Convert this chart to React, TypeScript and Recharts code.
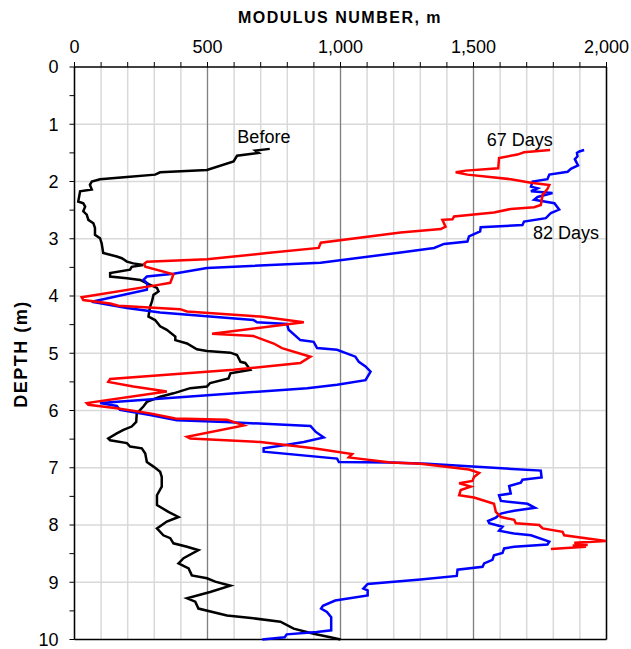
import {
  CartesianGrid,
  ReferenceDot,
  ReferenceLine,
  Scatter,
  ScatterChart,
  XAxis,
  YAxis,
} from "recharts";

// [modulus number m, depth (m)]
const beforeProfile: [number, number][] = [
  [734, 1.43], [680, 1.46], [692, 1.5], [611, 1.55], [598, 1.65], [498, 1.8],
  [322, 1.84], [303, 1.88], [197, 1.92], [96, 1.96], [65, 2.0], [58, 2.06],
  [65, 2.14], [21, 2.17], [14, 2.35], [33, 2.38], [40, 2.44], [33, 2.52],
  [46, 2.58], [52, 2.67], [71, 2.73], [77, 2.81], [77, 2.93], [96, 2.99],
  [102, 3.08], [108, 3.25], [159, 3.31], [178, 3.34], [197, 3.4], [221, 3.43],
  [259, 3.46], [215, 3.49], [209, 3.54], [134, 3.6], [134, 3.66], [197, 3.69],
  [247, 3.72], [272, 3.78], [310, 3.86], [316, 3.92], [297, 3.98], [291, 4.1],
  [284, 4.19], [278, 4.36], [303, 4.42], [322, 4.53], [347, 4.59], [379, 4.71],
  [379, 4.77], [423, 4.83], [460, 4.93], [498, 4.96], [586, 4.99], [611, 5.03],
  [624, 5.15], [642, 5.17], [661, 5.29], [586, 5.35], [579, 5.44], [510, 5.52],
  [498, 5.58], [435, 5.61], [372, 5.7], [322, 5.76], [272, 5.85], [259, 5.93],
  [247, 5.99], [234, 6.05], [232, 6.2], [215, 6.28], [184, 6.34], [159, 6.4],
  [127, 6.49], [134, 6.52], [197, 6.57], [209, 6.63], [253, 6.66], [266, 6.75],
  [272, 6.9], [297, 6.98], [322, 7.07], [328, 7.16], [328, 7.33], [310, 7.48],
  [310, 7.65], [353, 7.77], [391, 7.86], [347, 7.94], [310, 8.06], [334, 8.18],
  [360, 8.23], [372, 8.32], [423, 8.38], [466, 8.44], [410, 8.58], [391, 8.67],
  [429, 8.76], [441, 8.88], [498, 8.93], [529, 8.99], [586, 9.06], [510, 9.17],
  [423, 9.28], [454, 9.34], [466, 9.46], [573, 9.58], [673, 9.63], [774, 9.69],
  [824, 9.81], [899, 9.9], [962, 9.96], [1000, 10.0],
];

const days67Profile: [number, number][] = [
  [1788, 1.45], [1690, 1.49], [1665, 1.53], [1596, 1.59], [1593, 1.77],
  [1471, 1.81], [1433, 1.84], [1477, 1.88], [1640, 1.96], [1716, 2.02],
  [1785, 2.06], [1778, 2.13], [1760, 2.23], [1753, 2.41], [1728, 2.45],
  [1640, 2.48], [1577, 2.54], [1427, 2.61], [1421, 2.66], [1383, 2.67],
  [1395, 2.79], [1377, 2.83], [1226, 2.89], [926, 3.07], [918, 3.16],
  [724, 3.25], [498, 3.36], [272, 3.4], [262, 3.44], [266, 3.49], [372, 3.62],
  [360, 3.77], [310, 3.81], [27, 4.02], [33, 4.07], [134, 4.13], [165, 4.17],
  [397, 4.23], [423, 4.27], [699, 4.36], [862, 4.46], [517, 4.66], [673, 4.7],
  [749, 4.83], [780, 4.91], [887, 5.06], [849, 5.17], [598, 5.29], [134, 5.45],
  [127, 5.5], [221, 5.58], [347, 5.67], [46, 5.87], [52, 5.9], [159, 5.96],
  [284, 6.05], [379, 6.14], [573, 6.16], [636, 6.26], [423, 6.46], [435, 6.49],
  [699, 6.55], [899, 6.66], [1044, 6.76], [1031, 6.82], [1188, 6.91],
  [1301, 6.93], [1483, 7.03], [1521, 7.09], [1502, 7.16], [1496, 7.23],
  [1446, 7.27], [1490, 7.33], [1452, 7.39], [1446, 7.48], [1502, 7.52],
  [1577, 7.63], [1584, 7.77], [1603, 7.86], [1653, 7.91], [1659, 7.97],
  [1747, 8.0], [1760, 8.06], [1835, 8.12], [1841, 8.18], [1998, 8.28],
  [1879, 8.31], [1929, 8.35], [1873, 8.36], [1923, 8.38], [1791, 8.42],
];

const days82Profile: [number, number][] = [
  [1916, 1.45], [1898, 1.475], [1889, 1.5], [1891, 1.56], [1881, 1.61],
  [1893, 1.72], [1866, 1.78], [1854, 1.83], [1785, 1.88], [1778, 1.96],
  [1722, 2.0], [1716, 2.09], [1741, 2.12], [1716, 2.17], [1797, 2.2],
  [1741, 2.27], [1728, 2.32], [1804, 2.38], [1822, 2.49], [1791, 2.55],
  [1772, 2.64], [1690, 2.7], [1684, 2.76], [1527, 2.8], [1525, 2.87],
  [1483, 2.96], [1477, 3.05], [1389, 3.09], [1352, 3.16], [1226, 3.24],
  [925, 3.42], [498, 3.51], [372, 3.61], [272, 3.66], [259, 3.72], [274, 3.78],
  [272, 3.89], [65, 4.1], [197, 4.21], [322, 4.29], [673, 4.42], [686, 4.46],
  [799, 4.49], [805, 4.59], [849, 4.77], [899, 4.8], [912, 4.91], [987, 4.94],
  [1056, 5.06], [1069, 5.15], [1094, 5.23], [1113, 5.32], [1094, 5.47],
  [987, 5.55], [875, 5.61], [96, 5.87], [159, 5.92], [171, 5.99], [284, 6.08],
  [385, 6.17], [567, 6.2], [887, 6.27], [906, 6.37], [937, 6.47], [862, 6.55],
  [799, 6.6], [711, 6.66], [711, 6.72], [987, 6.84], [994, 6.9], [1188, 6.91],
  [1326, 6.93], [1753, 7.05], [1756, 7.17], [1684, 7.21], [1678, 7.26],
  [1634, 7.32], [1640, 7.45], [1596, 7.48], [1603, 7.58], [1703, 7.63],
  [1731, 7.7], [1653, 7.75], [1603, 7.8], [1584, 7.87], [1555, 7.93],
  [1559, 7.97], [1609, 8.03], [1596, 8.1], [1653, 8.15], [1716, 8.18],
  [1785, 8.29], [1778, 8.34], [1653, 8.38], [1615, 8.41], [1609, 8.49],
  [1577, 8.53], [1571, 8.61], [1540, 8.67], [1534, 8.73], [1440, 8.78],
  [1437, 8.89], [1301, 8.95], [1102, 9.03], [1086, 9.11], [1102, 9.14],
  [1102, 9.23], [980, 9.32], [934, 9.41], [927, 9.46], [949, 9.52],
  [965, 9.61], [965, 9.84], [911, 9.87], [798, 9.91], [790, 9.96], [706, 10.0],
];

const modulusTicks = Array.from({ length: 21 }, (_, i) => i * 100);
const modulusMajor = [500, 1000, 1500];
const depthTicks = Array.from({ length: 21 }, (_, i) => i * 0.5);
const depthGrid = [1, 2, 3, 4, 5, 6, 7, 8, 9];

const toPoints = (rows: [number, number][]) =>
  rows.map(([m, d]) => ({ m, d }));

const FONT = "'Liberation Sans', Arial, sans-serif";

function TopTick({ x, y, payload }: any) {
  if (payload.value % 500 !== 0) return <g />;
  return (
    <text x={x} y={y - 7} textAnchor="middle" fontSize={18} fill="#000" fontFamily={FONT}>
      {payload.value.toLocaleString("en-US")}
    </text>
  );
}

function LeftTick({ x, y, payload }: any) {
  if (payload.value % 1 !== 0) return <g />;
  return (
    <text x={x - 9} y={y + 6.4} textAnchor="end" fontSize={18} fill="#000" fontFamily={FONT}>
      {payload.value}
    </text>
  );
}

const noShape = () => <g />;

export default function App() {
  return (
    <div style={{ position: "absolute", left: 0, top: 0, width: 631, height: 649, background: "#fff" }}>
      <ScatterChart
        width={631}
        height={649}
        margin={{ top: 27, right: 24.5, bottom: 9.5, left: 14.5 }}
      >
        <CartesianGrid
          stroke="#d9d9d9"
          strokeWidth={1.5}
          verticalValues={modulusTicks}
          horizontalValues={depthGrid}
        />
        {modulusMajor.map((v) => (
          <ReferenceLine key={v} x={v} stroke="#808080" strokeWidth={1.2} />
        ))}
        <ReferenceLine x={2000} stroke="#000" strokeWidth={1.5} />
        <ReferenceLine y={10} stroke="#000" strokeWidth={1.5} />
        <XAxis
          type="number"
          dataKey="m"
          orientation="top"
          domain={[0, 2000]}
          ticks={modulusTicks}
          interval={0}
          height={40}
          tickSize={5}
          axisLine={{ stroke: "#000", strokeWidth: 1.5 }}
          tickLine={{ stroke: "#000" }}
          tick={<TopTick />}
        />
        <YAxis
          type="number"
          dataKey="d"
          reversed
          domain={[0, 10]}
          ticks={depthTicks}
          interval={0}
          width={60}
          tickSize={5}
          axisLine={{ stroke: "#000", strokeWidth: 1.5 }}
          tickLine={{ stroke: "#000" }}
          tick={<LeftTick />}
        />
        <Scatter
          name="Before"
          data={toPoints(beforeProfile)}
          line={{ stroke: "#000000", strokeWidth: 2.5 }}
          shape={noShape}
          isAnimationActive={false}
        />
        <Scatter
          name="82 Days"
          data={toPoints(days82Profile)}
          line={{ stroke: "#0000ff", strokeWidth: 2.5 }}
          shape={noShape}
          isAnimationActive={false}
        />
        <Scatter
          name="67 Days"
          data={toPoints(days67Profile)}
          line={{ stroke: "#ff0000", strokeWidth: 2.5 }}
          shape={noShape}
          isAnimationActive={false}
        />
        <ReferenceDot x={712} y={1.224} r={0} stroke="none"
          label={{ value: "Before", position: "center", fill: "#000", fontSize: 18, fontFamily: FONT }} />
        <ReferenceDot x={1674} y={1.271} r={0} stroke="none"
          label={{ value: "67 Days", position: "center", fill: "#000", fontSize: 18, fontFamily: FONT }} />
        <ReferenceDot x={1848} y={2.888} r={0} stroke="none"
          label={{ value: "82 Days", position: "center", fill: "#000", fontSize: 18, fontFamily: FONT }} />
      </ScatterChart>
      <svg
        width={631}
        height={649}
        style={{ position: "absolute", left: 0, top: 0, pointerEvents: "none" }}
      >
        <text x={340} y={22.7} textAnchor="middle" fontSize={16} fontWeight="bold"
          fontFamily={FONT} style={{ letterSpacing: 1.5 }}>
          MODULUS  NUMBER, m
        </text>
        <text transform="translate(26.7,354) rotate(-90)" textAnchor="middle" fontSize={18}
          fontWeight="bold" fontFamily={FONT} style={{ letterSpacing: 1.5 }}>
          DEPTH (m)
        </text>
      </svg>
    </div>
  );
}
